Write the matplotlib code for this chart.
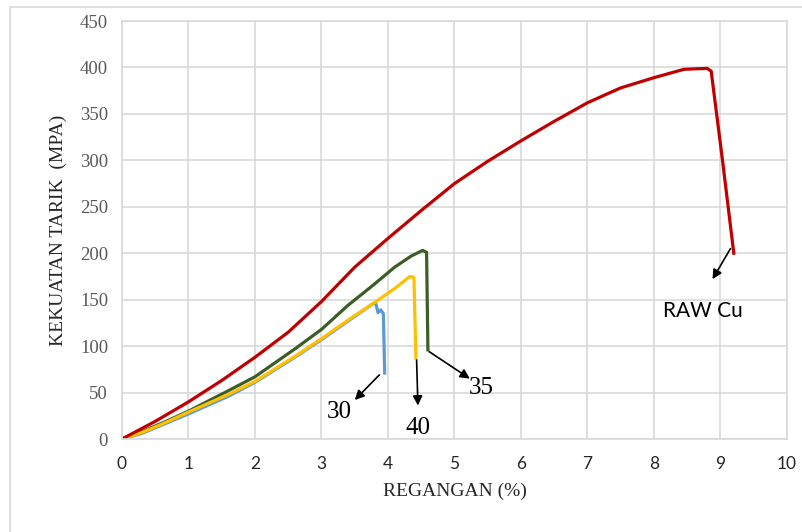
import numpy as np
import matplotlib.pyplot as plt
from matplotlib.patches import Rectangle

# strain (%) / stress (MPa)
raw_x = [0, 0.5, 1.0, 1.5, 2.0, 2.5, 3.0, 3.5, 4.0, 4.5, 5.0, 5.5, 6.0, 6.5, 7.0, 7.5, 8.0, 8.45, 8.8, 8.86, 9.03, 9.2]
raw_y = [0, 19, 40, 63, 88, 115, 148, 185, 216, 246, 275, 299, 321, 342, 362, 378, 389, 398, 399, 396, 300, 200]

s35_x = [0, 0.3, 0.6, 1.0, 1.6, 2.0, 2.6, 3.0, 3.4, 3.8, 4.1, 4.35, 4.52, 4.58, 4.6]
s35_y = [0, 8, 17, 30, 52, 67, 97, 118, 144, 167, 185, 197, 203, 201, 96]

s40_x = [0, 0.3, 0.6, 1.0, 1.6, 2.0, 2.6, 3.0, 3.4, 3.8, 4.1, 4.33, 4.39, 4.42]
s40_y = [0, 7, 16, 29, 48, 62, 89, 108, 128, 147, 162, 175, 174, 87]

s30_x = [0, 0.3, 0.6, 1.0, 1.6, 2.0, 2.6, 3.0, 3.4, 3.78, 3.82, 3.85, 3.89, 3.93, 3.95]
s30_y = [0, 6, 15, 27, 46, 61, 88, 107, 127, 146, 145, 136, 139, 135, 71]

x_ticks = list(range(0, 11))
y_ticks = list(range(0, 451, 50))

serif = 'Liberation Serif'
sans = 'Lato'
grid_col = '#D9D9D9'

fig = plt.figure(figsize=(8.03, 5.32), dpi=100)
# outer chart border (runs off the right / bottom edge as in the reference)
fig.patches.append(Rectangle((10 / 803, -0.05), 1.0, (532 - 7) / 532 + 0.05,
                             transform=fig.transFigure, fill=False,
                             edgecolor=grid_col, linewidth=1.2))

ax = fig.add_axes([122 / 803, (532 - 439) / 532, (787 - 122) / 803, (439 - 21) / 532])

lw = 2.3
ax.plot(s30_x, s30_y, color='#5B9BD5', lw=lw, solid_joinstyle='round')
ax.plot(s35_x, s35_y, color='#3B5E27', lw=lw, solid_joinstyle='round')
ax.plot(s40_x, s40_y, color='#FFC000', lw=lw, solid_joinstyle='round')
ax.plot(raw_x, raw_y, color='#C00000', lw=lw, solid_joinstyle='round')

ax.set_xlim(0, 10)
ax.set_ylim(0, 450)
ax.set_xticks(x_ticks)
ax.set_yticks(y_ticks)
ax.grid(True, color=grid_col, lw=1.2)
ax.set_axisbelow(True)
for sp in ax.spines.values():
    sp.set_color(grid_col)
    sp.set_linewidth(1.2)
ax.tick_params(length=0)
ax.tick_params(axis='x', pad=12, labelsize=12.5, labelcolor='#262626')
ax.tick_params(axis='y', pad=10, labelsize=13.5, labelcolor='#595959')
for lab in ax.get_xticklabels():
    lab.set_family(sans)
for lab in ax.get_yticklabels():
    lab.set_family(serif)

ax.set_xlabel('REGANGAN (%)', family=serif, fontsize=14, color='#262626', labelpad=8)
ax.set_ylabel('KEKUATAN TARIK  (MPA)', family=serif, fontsize=14, color='#262626', labelpad=9)

# arrows and labels
arrow = dict(arrowstyle='-|>', color='black', lw=1.2, mutation_scale=14, shrinkA=0, shrinkB=0)
ax.annotate('', xy=(3.5, 42), xytext=(3.87, 69), arrowprops=arrow)
ax.text(3.27, 29, '30', family=serif, fontsize=18, ha='center', va='center')

ax.annotate('', xy=(4.45, 36), xytext=(4.43, 85), arrowprops=arrow)
ax.text(4.45, 12, '40', family=serif, fontsize=18, ha='center', va='center')

ax.annotate('', xy=(5.23, 65), xytext=(4.62, 94), arrowprops=arrow)
ax.text(5.4, 55, '35', family=serif, fontsize=18, ha='center', va='center')

ax.annotate('', xy=(8.88, 172), xytext=(9.15, 205), arrowprops=arrow)
ax.text(8.73, 138, 'RAW Cu', family=sans, fontsize=15, ha='center', va='center')

fig.savefig('out.png', dpi=100)
